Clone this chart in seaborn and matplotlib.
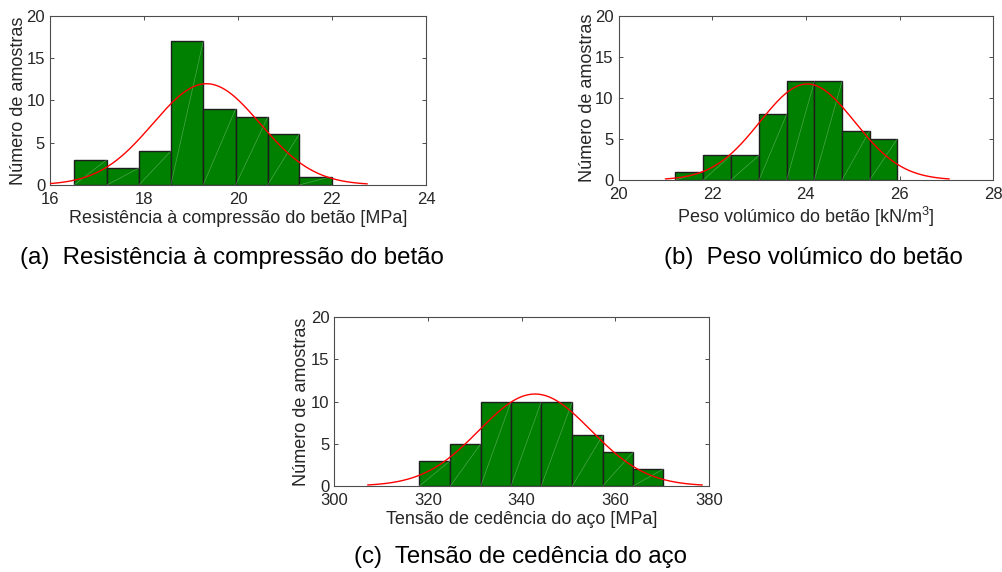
import numpy as np
import pandas as pd
import matplotlib
matplotlib.use("Agg")
import matplotlib.pyplot as plt
import seaborn as sns

sns.set_theme(style="white")
plt.rcParams['font.family'] = ['Liberation Sans', 'DejaVu Sans']
plt.rcParams['mathtext.fontset'] = 'custom'
plt.rcParams['mathtext.rm'] = 'Liberation Sans'
plt.rcParams['mathtext.it'] = 'Liberation Sans:italic'

# ---- data ----
edges_a = [16.51, 17.21, 17.89, 18.57, 19.26, 19.95, 20.63, 21.30, 21.99]
counts_a = [3, 2, 4, 17, 9, 8, 6, 1]
fit_a = (19.33, 1.14)   # mean, std of fitted normal

edges_b = [21.215, 21.81, 22.40, 23.00, 23.59, 24.18, 24.77, 25.36, 25.95]
counts_b = [1, 3, 3, 8, 12, 12, 6, 5]
fit_b = (24.03, 1.01)

edges_c = [318.15, 324.77, 331.26, 337.72, 344.19, 350.81, 357.30, 363.77, 370.24]
counts_c = [3, 5, 10, 10, 10, 6, 4, 2]
fit_c = (342.85, 11.91)

xlims = [(16, 24), (20, 28), (300, 380)]
xticks = [[16, 18, 20, 22, 24], [20, 22, 24, 26, 28], [300, 320, 340, 360, 380]]
yticks = [0, 5, 10, 15, 20]
xlabels = ["Resistência à compressão do betão [MPa]",
           "Peso volúmico do betão [kN/m$^\\mathregular{3}$]",
           "Tensão de cedência do aço [MPa]"]
ylabel = "Número de amostras"
captions = ["(a)  Resistência à compressão do betão",
            "(b)  Peso volúmico do betão",
            "(c)  Tensão de cedência do aço"]

W, H = 1003, 572
fig = plt.figure(figsize=(W / 100, H / 100), dpi=100)

def px_axes(l, t, r, b):
    return fig.add_axes([l / W, 1 - b / H, (r - l) / W, (b - t) / H])

boxes = [(50, 16, 426, 185), (618.5, 15.7, 993.3, 180), (334.3, 317.3, 709, 486)]
ylab_off = [23.0, 22.0, 24.5]   # px from left spine to y-label (descender side)
axes = [px_axes(*b) for b in boxes]

spine_col = "#4d4d4d"
text_col = "#262626"

for ax, box, yoff, edges, counts, fit, xl, xt, xlab in zip(
        axes, boxes, ylab_off, [edges_a, edges_b, edges_c],
        [counts_a, counts_b, counts_c], [fit_a, fit_b, fit_c],
        xlims, xticks, xlabels):
    e = np.array(edges)
    c = np.array(counts)
    centers = (e[:-1] + e[1:]) / 2
    df = pd.DataFrame({"x": centers, "w": c})
    sns.histplot(data=df, x="x", weights="w", bins=list(edges), ax=ax,
                 color="#008000", alpha=1.0, edgecolor="#1e1e1e",
                 linewidth=1.0, zorder=2)
    # faint diagonal artifacts within each bar
    for i in range(len(c)):
        ax.plot([e[i], e[i + 1]], [0, c[i]], color="white",
                lw=0.5, alpha=0.3, zorder=3)
    # fitted normal curve
    mu, sd = fit
    n = c.sum()
    bw = np.mean(np.diff(e))
    xs = np.linspace(mu - 3 * sd, mu + 3 * sd, 300)
    ys = n * bw / (sd * np.sqrt(2 * np.pi)) * np.exp(-0.5 * ((xs - mu) / sd) ** 2)
    ax.plot(xs, ys, color="red", lw=1.0, zorder=4, clip_on=True)

    ax.set_xlim(*xl)
    ax.set_ylim(0, 20)
    ax.set_xticks(xt)
    ax.set_yticks(yticks)
    ax.set_xlabel(xlab, fontsize=13, color=text_col, labelpad=2)
    ax.set_ylabel(ylabel, fontsize=13, color=text_col)
    ax.yaxis.set_label_coords(-yoff / (box[2] - box[0]), 0.5)
    ax.tick_params(direction="in", length=3, width=0.7, colors=spine_col,
                   labelcolor=text_col, labelsize=12, top=True, right=True,
                   bottom=True, left=True)
    ax.tick_params(axis="x", pad=5)
    ax.tick_params(axis="y", pad=3.5)
    for s in ax.spines.values():
        s.set_visible(True)
        s.set_color(spine_col)
        s.set_linewidth(0.8)
    ax.grid(False)
    ax.set_facecolor("white")

fig.text(232 / W, 1 - 258 / H, captions[0], ha="center", va="center",
         fontsize=17.3, color="black")
fig.text(813 / W, 1 - 258 / H, captions[1], ha="center", va="center",
         fontsize=17.3, color="black")
fig.text(521 / W, 1 - 557 / H, captions[2], ha="center", va="center",
         fontsize=17.3, color="black")

fig.savefig("out.png", dpi=100)
